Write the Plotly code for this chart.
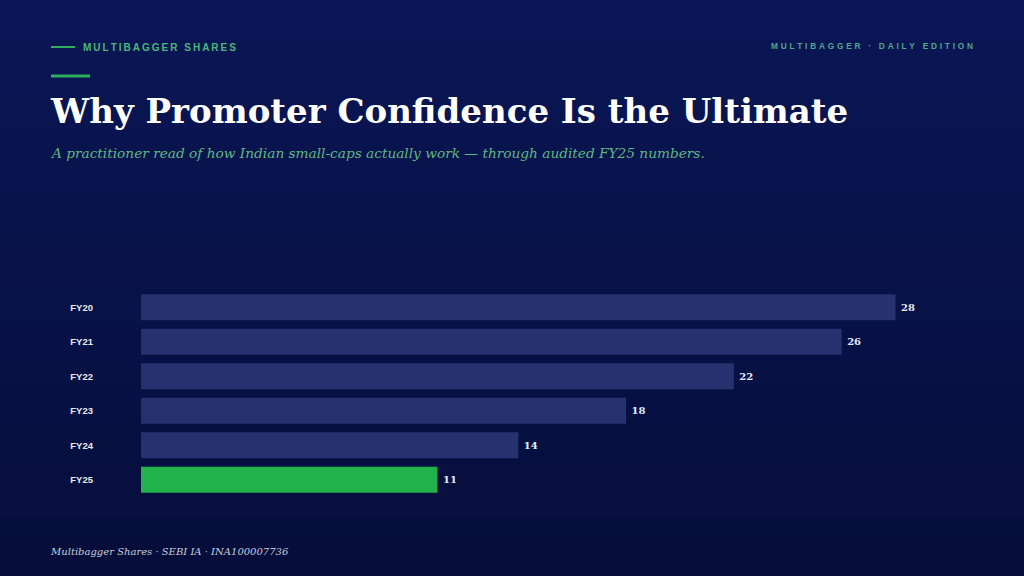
import plotly.graph_objects as go

years = ["FY20", "FY21", "FY22", "FY23", "FY24", "FY25"]
values = [28, 26, 22, 18, 14, 11]
highlight = "FY25"

W, H = 1024, 576
L, R, T, B = 141, 53, 290, 79

def px(x):
    return (x - L) / (W - L - R)

def py(y):
    return (H - B - y) / (H - T - B)

def spaced(s, gap="\u2009"):
    return gap.join(s)

bar_colors = ["#22b24c" if y == highlight else "#263170" for y in years]

fig = go.Figure()
fig.add_trace(go.Bar(
    x=values, y=years, orientation="h",
    marker=dict(color=bar_colors, line=dict(width=0)),
    text=["\u2005" + str(v) for v in values], textposition="outside",
    textfont=dict(family="DejaVu Serif", size=10, color="#e8eaf2", weight="bold"),
    cliponaxis=False, hoverinfo="skip",
))

# background gradient as stacked strips
top_c, bot_c = (10, 22, 86), (5, 14, 58)
n = 30
shapes = []
for i in range(n):
    t = i / (n - 1)
    c = tuple(round(top_c[k] + (bot_c[k] - top_c[k]) * t) for k in range(3))
    shapes.append(dict(type="rect", xref="paper", yref="paper", layer="below",
                       x0=px(0), x1=px(W), y0=py(H * (i + 1) / n + 1), y1=py(H * i / n),
                       fillcolor="rgb(%d,%d,%d)" % c, line=dict(width=0)))
shapes.append(dict(type="line", xref="paper", yref="paper", x0=px(51), x1=px(75),
                   y0=py(47), y1=py(47), line=dict(color="#2fae5c", width=2)))
shapes.append(dict(type="line", xref="paper", yref="paper", x0=px(51), x1=px(90),
                   y0=py(76), y1=py(76), line=dict(color="#2fae5c", width=3)))

annotations = [
    dict(text=spaced("MULTIBAGGER SHARES"), x=px(81), y=py(47), xanchor="left", yanchor="middle",
         font=dict(family="Liberation Sans", size=10, color="#4cb577", weight="bold")),
    dict(text=spaced("MULTIBAGGER · DAILY EDITION", "\u2004"), x=px(975), y=py(46), xanchor="right", yanchor="middle",
         font=dict(family="Liberation Sans", size=8.3, color="#4fa88e", weight="bold")),
    dict(text="Why Promoter Confidence Is the Ultimate", x=px(48), y=py(111), xanchor="left", yanchor="middle",
         font=dict(family="DejaVu Serif", size=34, color="#ffffff", weight="bold")),
    dict(text="A practitioner read of how Indian small-caps actually work — through audited FY25 numbers.",
         x=px(48), y=py(153), xanchor="left", yanchor="middle",
         font=dict(family="DejaVu Serif", size=13.7, color="#5fb883", style="italic")),
    dict(text="Multibagger Shares · SEBI IA · INA100007736", x=px(48), y=py(551), xanchor="left", yanchor="middle",
         font=dict(family="DejaVu Serif", size=10, color="#c9cddb", style="italic")),
]
for a in annotations:
    a.update(xref="paper", yref="paper", showarrow=False)

fig.update_layout(
    width=W, height=H, margin=dict(l=L, r=R, t=T, b=B),
    paper_bgcolor="#081348", plot_bgcolor="rgba(0,0,0,0)",
    bargap=0.25, showlegend=False,
    shapes=shapes, annotations=annotations,
    xaxis=dict(range=[0, 30.8], visible=False, fixedrange=True),
    yaxis=dict(autorange="reversed", showgrid=False, zeroline=False, showline=False,
               ticks="", ticklabelstandoff=47,
               tickfont=dict(family="Liberation Sans", size=9.5, color="#e8eaf2", weight="bold")),
)

fig.write_html("out.html", config={"displayModeBar": False},
               post_script="document.body.style.margin='0';document.body.style.overflow='hidden';")
